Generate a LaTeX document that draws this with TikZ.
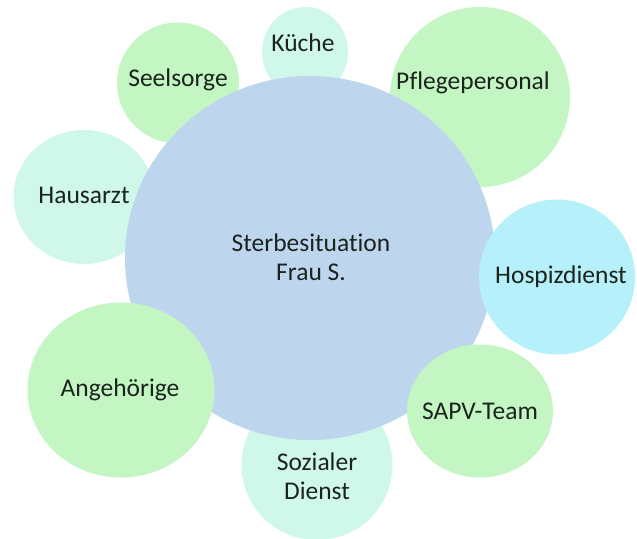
\documentclass[tikz,border=0pt]{standalone}
\usepackage{fontspec}
\setmainfont{Carlito}[Ligatures={NoCommon}]
\usetikzlibrary{shapes.geometric}
\definecolor{cblue}{HTML}{BDD6EE}
\definecolor{cgreen}{HTML}{C3F6C3}
\definecolor{cmint}{HTML}{D0F8EA}
\definecolor{ccyan}{HTML}{B6F0FA}
\definecolor{ctext}{HTML}{1A241D}
\tikzset{
  bubble/.style={ellipse, draw=none, fill=#1, inner sep=0pt},
  lbl/.style={text=ctext, font=\fontsize{25.5}{29}\selectfont, align=center, inner sep=0pt}
}
\begin{document}
\begin{tikzpicture}[x=1pt,y=-1pt]
\useasboundingbox (0,0) rectangle (637,538);
\clip (0,0) rectangle (637,538);
\fill[white] (0,0) rectangle (637,538);
% background bubbles
\node[bubble=cmint, minimum width=86, minimum height=90] (kue) at (305,52) {};
\node[bubble=cgreen, minimum width=122, minimum height=121] (see) at (178,83) {};
\node[bubble=cmint, minimum width=141, minimum height=134] (hau) at (84,197) {};
\node[bubble=cgreen, minimum width=180, minimum height=180] (pfl) at (480,97) {};
\node[bubble=cmint, minimum width=151, minimum height=150] (soz) at (317,465) {};
% centre
\node[bubble=cblue, minimum width=370, minimum height=364] (mid) at (310,258) {};
% foreground bubbles
\node[bubble=ccyan, minimum width=156, minimum height=155] (hos) at (557,277) {};
\node[bubble=cgreen, minimum width=187, minimum height=175] (ang) at (121,390) {};
\node[bubble=cgreen, minimum width=146, minimum height=133] (sap) at (480,411) {};
% labels
\node[lbl] (tmid) at (311,257) {Sterbesituation\\Frau S.};
\node[lbl] (tkue) at (303,43) {Küche};
\node[lbl] (tsee) at (178,80) {Seelsorge};
\node[lbl] (thau) at (84,195) {Hausarzt};
\node[lbl] (tpfl) at (473,83) {Pflegepersonal};
\node[lbl] (thos) at (561,277) {Hospizdienst};
\node[lbl] (tang) at (120,390) {Angehörige};
\node[lbl] (tsap) at (480,411) {SAPV-Team};
\node[lbl] (tsoz) at (317,476) {Sozialer\\Dienst};
\end{tikzpicture}
\end{document}
